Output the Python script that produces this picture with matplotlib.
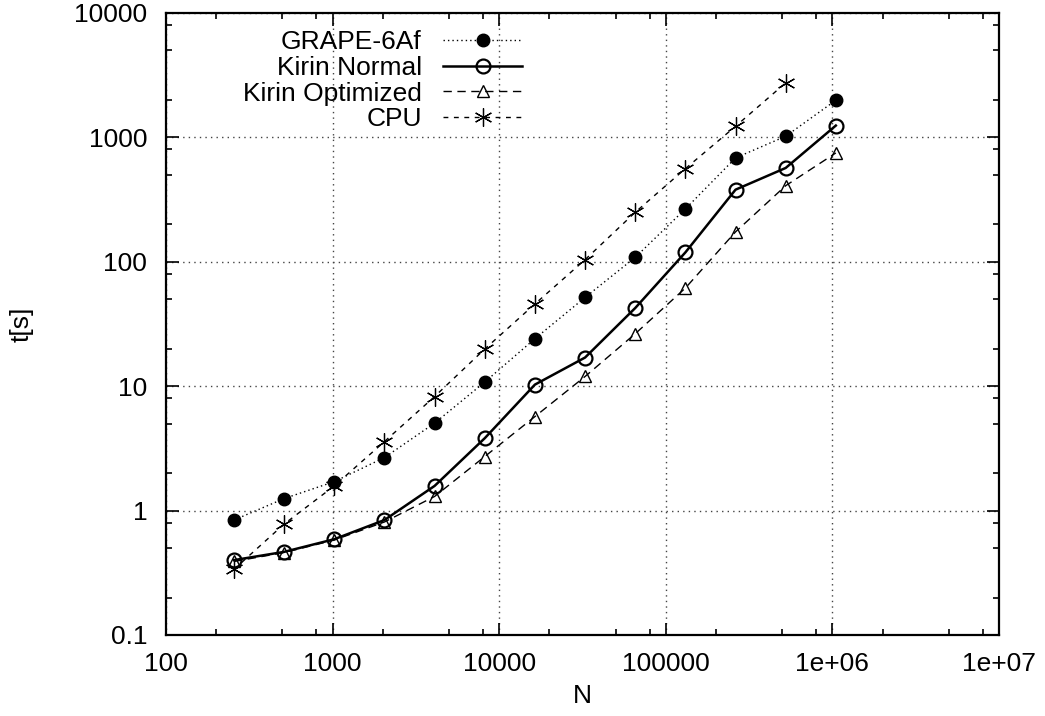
import numpy as np
import matplotlib
matplotlib.use('Agg')
import matplotlib.pyplot as plt
from matplotlib.ticker import LogLocator, FixedFormatter, FixedLocator, NullFormatter

plt.rcParams['font.family'] = ['Liberation Sans', 'DejaVu Sans']

N         = [256, 512, 1024, 2048, 4096, 8192, 16384, 32768, 65536,
             131072, 262144, 524288, 1048576]
grape     = [0.84, 1.25, 1.71, 2.67, 5.05, 10.8, 24.1, 51.7, 108.6, 266, 684, 1021, 1990]
kirin_nrm = [0.40, 0.466, 0.589, 0.84, 1.58, 3.82, 10.3, 17.0, 42.5, 119, 380, 568, 1245]
kirin_opt = [0.39, 0.46, 0.58, 0.81, 1.30, 2.72, 5.7, 11.97, 26.4, 61.5, 174, 409, 750]
N_cpu     = N[:-1]
cpu       = [0.337, 0.78, 1.58, 3.59, 8.26, 19.9, 45.8, 104, 250, 561, 1228, 2744]

xticks = [1e2, 1e3, 1e4, 1e5, 1e6, 1e7]
xlabels = ['100', '1000', '10000', '100000', '1e+06', '1e+07']
yticks = [0.1, 1, 10, 100, 1000, 10000]
ylabels = ['0.1', '1', '10', '100', '1000', '10000']

fs = 19

fig = plt.figure(figsize=(10.45, 7.16), dpi=100)
ax = fig.add_axes([166/1045, 81/716, 833/1045, 622/716])

# asterisk marker like gnuplot pt 3
star = (6, 2, 0)

ax.plot(N, grape, color='black', lw=1.0, dashes=(1, 2.2), marker='o', ms=9,
        mfc='black', mec='black', label='GRAPE-6Af')
ax.plot(N, kirin_nrm, color='black', lw=1.8, ls='-', marker='o', ms=10,
        mfc='none', mec='black', mew=1.6, label='Kirin Normal')
ax.plot(N, kirin_opt, color='black', lw=1.0, dashes=(6, 4), marker='^', ms=9,
        mfc='none', mec='black', mew=1.0, label='Kirin Optimized')
ax.plot(N_cpu, cpu, color='black', lw=1.0, dashes=(3.5, 4), marker=star, ms=13,
        mec='black', mew=0.9, label='CPU')

ax.set_xscale('log')
ax.set_yscale('log')
ax.set_xlim(1e2, 1e7)
ax.set_ylim(0.1, 1e4)

ax.xaxis.set_major_locator(FixedLocator(xticks))
ax.xaxis.set_major_formatter(FixedFormatter(xlabels))
ax.yaxis.set_major_locator(FixedLocator(yticks))
ax.yaxis.set_major_formatter(FixedFormatter(ylabels))
ax.xaxis.set_minor_locator(LogLocator(base=10, subs=(2, 5, 8)))
ax.yaxis.set_minor_locator(LogLocator(base=10, subs=(2, 5, 8)))
ax.xaxis.set_minor_formatter(NullFormatter())
ax.yaxis.set_minor_formatter(NullFormatter())

ax.tick_params(which='both', direction='in', top=True, right=True, width=1.2)
ax.tick_params(which='major', length=9, labelsize=fs)
ax.tick_params(axis='x', which='major', pad=12)
ax.tick_params(axis='y', which='major', pad=13.5)
ax.tick_params(which='minor', length=4.5)
for s in ax.spines.values():
    s.set_linewidth(1.6)

ax.grid(True, which='major', color='#444444', lw=1.0, dashes=(1, 3))

ax.set_xlabel('N', fontsize=fs, labelpad=6)
ax.set_ylabel('t[s]', fontsize=fs, labelpad=29)

leg = ax.legend(loc='upper left', bbox_to_anchor=(0.0924, 0.972), frameon=False,
                markerfirst=False, fontsize=fs, handlelength=3.0,
                handletextpad=0.8, labelspacing=0.06, borderaxespad=0.0,
                borderpad=0.0)

fig.savefig('out.png', dpi=100)
